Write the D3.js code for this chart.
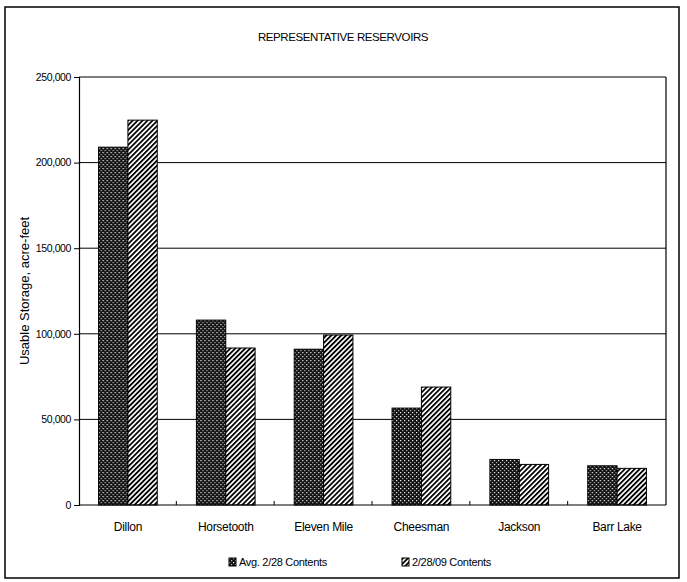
<!DOCTYPE html>
<html lang="en">
<head>
    <meta charset="UTF-8">
    <script src="https://d3js.org/d3.v7.min.js"></script>
    <title>Representative Reservoirs</title>
    <style>
        body { margin: 0; background: #fff; }
        text { font-family: "Liberation Sans", Arial, sans-serif; fill: #000; }
    </style>
</head>
<body>
    <script>
        // reservoir data, acre-feet
        var categories = ["Dillon", "Horsetooth", "Eleven Mile", "Cheesman", "Jackson", "Barr Lake"];
        var avgContents = [209000, 108000, 91000, 56600, 26600, 22900];
        var contents2009 = [224800, 91700, 99300, 68900, 23700, 21400];
        var seriesNames = ["Avg. 2/28 Contents", "2/28/09 Contents"];
        var yTicks = [0, 50000, 100000, 150000, 200000, 250000];

        var W = 687, H = 582;
        var plot = {left: 79, right: 666, top: 77, bottom: 505};

        var svg = d3.select("body").append("svg").attr("width", W).attr("height", H);

        // fill patterns
        var defs = svg.append("defs");
        var dots = defs.append("pattern").attr("id", "dots")
            .attr("patternUnits", "userSpaceOnUse").attr("width", 4).attr("height", 4);
        dots.append("rect").attr("width", 4).attr("height", 4).attr("fill", "#111");
        dots.append("rect").attr("x", 0).attr("y", 0).attr("width", 1.2).attr("height", 1.2).attr("fill", "#fff");
        dots.append("rect").attr("x", 2).attr("y", 2).attr("width", 1.2).attr("height", 1.2).attr("fill", "#bbb");

        var hatch = defs.append("pattern").attr("id", "hatch")
            .attr("patternUnits", "userSpaceOnUse").attr("width", 3.5).attr("height", 3.5)
            .attr("patternTransform", "rotate(45)");
        hatch.append("rect").attr("width", 3.5).attr("height", 3.5).attr("fill", "#fff");
        hatch.append("rect").attr("x", 0).attr("y", 0).attr("width", 1.8).attr("height", 3.5).attr("fill", "#000");

        var fills = ["url(#dots)", "url(#hatch)"];

        // outer frame
        svg.append("rect").attr("x", 5).attr("y", 7).attr("width", 674).attr("height", 571)
            .attr("fill", "none").attr("stroke", "#000").attr("stroke-width", 1.5);

        svg.append("text").attr("x", 343).attr("y", 41).attr("text-anchor", "middle")
            .style("font-size", "11.5px").style("letter-spacing", "-0.4px")
            .text("REPRESENTATIVE RESERVOIRS");

        var x0 = d3.scaleBand().domain(categories).range([plot.left, plot.right])
            .paddingInner(0.4).paddingOuter(0.2);
        var x1 = d3.scaleBand().domain([0, 1]).range([0, x0.bandwidth()]);
        var y = d3.scaleLinear().domain([0, 250000]).range([plot.bottom, plot.top]);

        // gridlines
        svg.append("g").selectAll("line").data(yTicks.slice(1)).join("line")
            .attr("x1", plot.left).attr("x2", plot.right)
            .attr("y1", d => y(d)).attr("y2", d => y(d))
            .attr("stroke", "#000").attr("stroke-width", 1);
        // right border of plot
        svg.append("line").attr("x1", plot.right).attr("x2", plot.right)
            .attr("y1", plot.top).attr("y2", plot.bottom).attr("stroke", "#000").attr("stroke-width", 1.2);

        // y axis
        var yAxis = svg.append("g").attr("transform", "translate(" + plot.left + ",0)")
            .call(d3.axisLeft(y).tickValues(yTicks).tickFormat(d3.format(",")).tickSize(5).tickPadding(3));
        yAxis.select(".domain").attr("stroke-width", 1.2);
        yAxis.selectAll("text").style("font-size", "10.5px").style("letter-spacing", "-0.4px")
            .style("font-family", "'Liberation Sans', Arial, sans-serif");

        svg.append("text")
            .attr("transform", "translate(29," + ((plot.top + plot.bottom) / 2) + ") rotate(-90)")
            .attr("text-anchor", "middle").style("font-size", "13px")
            .text("Usable Storage, acre-feet");

        // bars
        var groups = svg.append("g").selectAll("g").data(categories).join("g")
            .attr("transform", d => "translate(" + x0(d) + ",0)");
        groups.selectAll("rect").data((d, i) => [avgContents[i], contents2009[i]]).join("rect")
            .attr("x", (d, j) => x1(j))
            .attr("width", x1.bandwidth())
            .attr("y", d => y(d))
            .attr("height", d => y(0) - y(d))
            .attr("fill", (d, j) => fills[j])
            .attr("stroke", "#000").attr("stroke-width", 1);

        // x axis baseline and category ticks
        svg.append("line").attr("x1", plot.left).attr("x2", plot.right)
            .attr("y1", plot.bottom).attr("y2", plot.bottom).attr("stroke", "#000").attr("stroke-width", 1.2);
        var step = x0.step();
        svg.append("g").selectAll("line").data(categories.slice(1)).join("line")
            .attr("x1", d => x0(d) - x0.paddingInner() * step / 2 - 0.5)
            .attr("x2", d => x0(d) - x0.paddingInner() * step / 2 - 0.5)
            .attr("y1", plot.bottom - 4).attr("y2", plot.bottom)
            .attr("stroke", "#000");
        svg.append("g").selectAll("text").data(categories).join("text")
            .attr("x", d => x0(d) + x0.bandwidth() / 2)
            .attr("y", 531)
            .attr("text-anchor", "middle").style("font-size", "12px").style("letter-spacing", "-0.3px")
            .text(d => d);

        // legend
        var legendX = [229, 402];
        var legend = svg.append("g").selectAll("g").data(seriesNames).join("g")
            .attr("transform", (d, i) => "translate(" + legendX[i] + ",558)");
        legend.append("rect").attr("width", 7).attr("height", 8)
            .attr("fill", (d, i) => fills[i]).attr("stroke", "#000").attr("stroke-width", 1);
        legend.append("text").attr("x", 10).attr("y", 8)
            .style("font-size", "11px").style("letter-spacing", "-0.3px")
            .text(d => d);
    </script>
</body>
</html>
